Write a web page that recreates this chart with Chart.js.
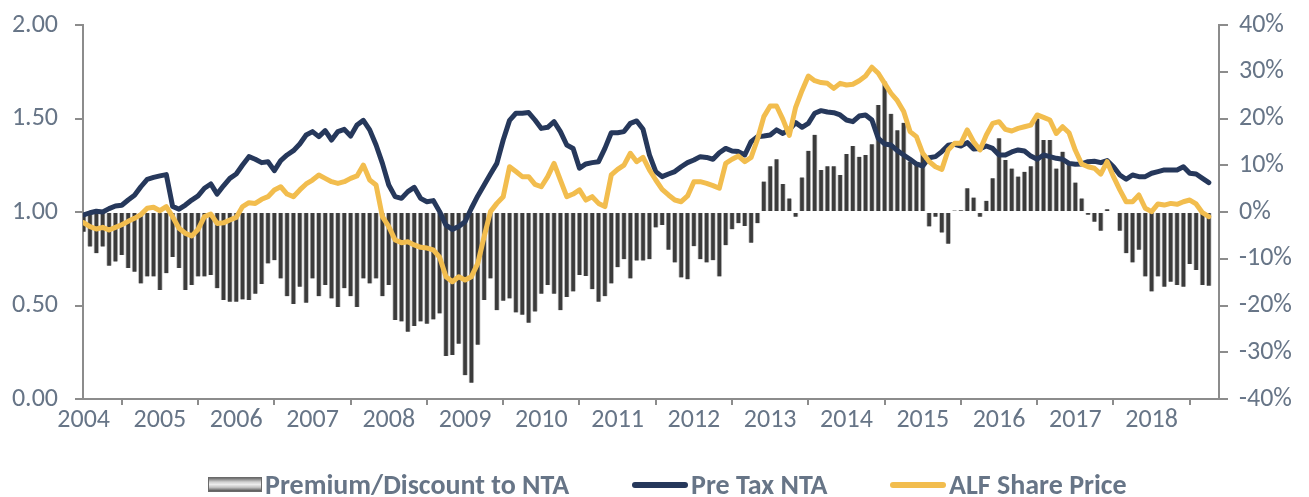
<!DOCTYPE html>
<html>
<head>
<meta charset="utf-8">
<script src="https://cdn.jsdelivr.net/npm/chart.js@4.4.1/dist/chart.umd.min.js"></script>
<style>
  html, body { margin: 0; padding: 0; background: #fff; }
  #wrap { position: relative; width: 1309px; height: 497px; }
  #leyenda { position: absolute; left: 0; top: 472px; width: 1309px; height: 25px;
             font-family: Carlito, Lato, 'Open Sans', sans-serif; font-weight: bold;
             font-size: 28px; color: #677587; }
  .item { position: absolute; top: 0; height: 25px; display: flex; align-items: center; white-space: nowrap; }
  .caja { width: 54px; height: 15px; margin-right: 3px; box-sizing: border-box; border: 1px solid #6a6a6a;
          background: linear-gradient(to bottom, #6b6b6b 0%, #cfcfcf 30%, #ececec 50%, #c4c4c4 72%, #555 100%); }
  .linea { width: 56px; height: 6px; border-radius: 3px; margin-right: 3px; }
</style>
</head>
<body>
<div id="wrap">
  <canvas id="graficoAlf" width="1309" height="497"></canvas>
  <div id="leyenda">
    <div class="item" style="left:208px"><span class="caja"></span>Premium/Discount to NTA</div>
    <div class="item" style="left:632px"><span class="linea" style="background:#26385b"></span>Pre Tax NTA</div>
    <div class="item" style="left:890px"><span class="linea" style="background:#f2bd4e"></span>ALF Share Price</div>
  </div>
</div>
<script>
// etiquetas de años (una cada 12 meses)
const anios = ['2004', '2005', '2006', '2007', '2008', '2009', '2010', '2011', '2012', '2013', '2014', '2015', '2016', '2017', '2018'];

// prima / descuento sobre NTA (%), mensual
const primaDescuento = [
    -4.2, -7.4, -8.8, -7.4, -11.5, -10.6, -9.2, -12.0, -12.8, -15.3, -13.8, -13.8,
    -16.7, -13.1, -9.6, -12.0, -16.7, -15.6, -13.8, -13.8, -13.5, -16.3, -18.8, -19.2,
    -19.2, -18.7, -18.8, -17.5, -15.4, -11.0, -10.3, -14.2, -18.0, -19.7, -16.0, -19.4,
    -14.2, -18.0, -15.6, -18.5, -20.3, -16.3, -18.0, -20.3, -14.2,
    -15.3, -14.2, -18.0, -15.6, -23.1, -23.4, -25.6, -24.4, -23.4, -23.9, -23.0, -21.7,
    -30.8, -30.6, -28.2, -34.9, -36.5, -28.4, -18.8, -14.2, -21.0, -19.0, -18.5,
    -21.5, -22.0, -23.7, -21.3, -17.5, -15.6, -17.5, -21.0, -18.2, -17.0, -13.5, -13.7,
    -16.5, -19.2, -18.0, -15.3, -11.8, -10.1, -14.2, -10.4, -10.4, -10.1,
    -3.3, -2.8, -8.1, -10.8, -14.0, -14.4, -7.3, -10.1, -10.8, -10.3, -13.8, -7.1,
    -3.7, -2.4, -3.0, -6.6, -2.4, 6.5, 9.8, 11.3, 6.0, 2.9,
    -1.0, 7.4, 13.1, 16.5, 9.0, 9.8, 9.8, 7.9, 12.4, 14.1, 11.8, 12.2,
    14.5, 22.9, 27.9, 21.0, 17.5, 19.1, 10.8, 10.3, 12.4, -3.1,
    -1.0, -4.4, -6.8, 0.3, 0.4, 5.1, 3.1, -1.0, 2.4, 7.2, 15.8, 11.1,
    9.3, 7.6, 8.6, 9.8, 20.0, 15.4, 15.4, 9.3, 12.9, 10.3, 6.3,
    2.9, -0.6, -2.1, -4.0, 0.6, 0, -4.0, -8.8, -10.8, -8.1, -13.8, -17.0,
    -13.8, -16.0, -14.9, -15.6, -16.0, -11.1, -12.4, -15.6, -15.8
];

// NTA antes de impuestos (índice)
const ntaPreImpuestos = [
    0.984, 0.996, 1.004, 1.0, 1.018, 1.032, 1.036, 1.064, 1.089, 1.135,
    1.175, 1.185, 1.193, 1.2, 1.03, 1.015, 1.037, 1.064, 1.086, 1.127,
    1.15, 1.096, 1.14, 1.18, 1.203, 1.251, 1.296, 1.282, 1.264, 1.269,
    1.221, 1.275, 1.305, 1.328, 1.364, 1.412, 1.43, 1.403, 1.435, 1.385,
    1.43, 1.442, 1.406, 1.465, 1.49, 1.439, 1.358, 1.26, 1.144, 1.082,
    1.073, 1.109, 1.132, 1.073, 1.055, 1.061, 1.002, 0.93, 0.907, 0.922,
    0.948, 1.02, 1.086, 1.144, 1.203, 1.26, 1.385, 1.49, 1.528, 1.528,
    1.532, 1.492, 1.447, 1.453, 1.483, 1.43, 1.358, 1.34, 1.234, 1.257,
    1.264, 1.269, 1.34, 1.424, 1.424, 1.43, 1.474, 1.487, 1.442,
    1.305, 1.216, 1.189, 1.203, 1.216, 1.242, 1.264, 1.278, 1.296, 1.292,
    1.282, 1.317, 1.34, 1.326, 1.323, 1.305, 1.376, 1.403, 1.406, 1.412,
    1.439, 1.42, 1.44, 1.478, 1.453, 1.474, 1.528, 1.542, 1.535, 1.531,
    1.519, 1.492, 1.483, 1.513, 1.519, 1.492, 1.394, 1.364, 1.358, 1.328,
    1.305, 1.282, 1.257, 1.246, 1.29, 1.296, 1.323, 1.357, 1.362, 1.353,
    1.371, 1.337, 1.339, 1.353, 1.34, 1.305, 1.305, 1.321, 1.332, 1.326,
    1.299, 1.282, 1.305, 1.296, 1.287, 1.282, 1.26, 1.255, 1.257, 1.269,
    1.271, 1.264, 1.275, 1.242, 1.198, 1.175, 1.198, 1.189, 1.189, 1.207,
    1.216, 1.225, 1.225, 1.225, 1.242, 1.207, 1.203, 1.18, 1.157
];

// precio de la acción ALF (índice)
const precioAccion = [
    0.943, 0.922, 0.909, 0.918, 0.904, 0.918, 0.932, 0.95, 0.966, 0.986,
    1.02, 1.025, 1.007, 1.029, 0.975, 0.913, 0.886, 0.872, 0.907, 0.975,
    0.989, 0.939, 0.942, 0.957, 0.971, 1.029, 1.05, 1.046, 1.068, 1.082,
    1.118, 1.135, 1.096, 1.082, 1.118, 1.15, 1.171, 1.198, 1.18, 1.162,
    1.153, 1.162, 1.18, 1.193, 1.251, 1.171, 1.144, 0.975, 0.922, 0.85,
    0.836, 0.841, 0.824, 0.811, 0.807, 0.797, 0.758, 0.654, 0.627, 0.654,
    0.636, 0.654, 0.725, 0.868, 1.002, 1.046, 1.082, 1.242, 1.216, 1.189,
    1.189, 1.148, 1.135, 1.189, 1.26, 1.171, 1.082, 1.096, 1.118, 1.064,
    1.082, 1.046, 1.029, 1.198, 1.228, 1.251, 1.314, 1.269, 1.292,
    1.225, 1.171, 1.121, 1.091, 1.064, 1.055, 1.086, 1.162, 1.162, 1.153,
    1.141, 1.127, 1.26, 1.282, 1.299, 1.269, 1.292, 1.389, 1.51, 1.567,
    1.567, 1.495, 1.41, 1.56, 1.649, 1.727, 1.702, 1.692, 1.688, 1.661,
    1.688, 1.679, 1.683, 1.702, 1.727, 1.774, 1.742, 1.688, 1.635, 1.595,
    1.537, 1.43, 1.403, 1.314, 1.27, 1.242, 1.228, 1.332, 1.367, 1.367,
    1.439, 1.376, 1.332, 1.412, 1.474, 1.483, 1.442, 1.433, 1.447, 1.456,
    1.465, 1.519, 1.506, 1.492, 1.42, 1.456, 1.424, 1.33, 1.257, 1.242,
    1.234, 1.203, 1.269, 1.189, 1.118, 1.055, 1.055, 1.091, 1.02, 1.002,
    1.043, 1.037, 1.046, 1.041, 1.055, 1.064, 1.043, 0.996, 0.975
];

const colorTexto = '#677587';
const colorEje = '#8c8c8c';
const fuente = "Carlito, Lato, 'Open Sans', sans-serif";

// punto por mes: x = número de mes desde ene-2004
const aPuntos = serie => serie.map((v, i) => ({ x: i, y: v }));

// ancho fijo del eje y sin relleno extra arriba/abajo
const ajustarEjeY = ancho => scale => {
    scale.width = ancho;
    scale.paddingTop = 0;
    scale.paddingBottom = 0;
};

Chart.defaults.font.family = fuente;
Chart.defaults.color = colorTexto;

const ctx = document.getElementById('graficoAlf').getContext('2d');

new Chart(ctx, {
    type: 'bar',
    data: {
        datasets: [{
            type: 'line',
            label: 'ALF Share Price',
            data: aPuntos(precioAccion),
            borderColor: '#f2bd4e',
            borderWidth: 5,
            pointRadius: 0,
            tension: 0,
            borderJoinStyle: 'round',
            borderCapStyle: 'round',
            yAxisID: 'y',
            order: 0
        }, {
            type: 'line',
            label: 'Pre Tax NTA',
            data: aPuntos(ntaPreImpuestos),
            borderColor: '#26385b',
            borderWidth: 5,
            pointRadius: 0,
            tension: 0,
            borderJoinStyle: 'round',
            borderCapStyle: 'round',
            yAxisID: 'y',
            order: 1
        }, {
            label: 'Premium/Discount to NTA',
            data: aPuntos(primaDescuento),
            backgroundColor: '#3b3b3b',
            borderColor: '#c2c2c2',
            borderWidth: { left: 1, right: 1, top: 0, bottom: 0 },
            borderSkipped: false,
            barThickness: 5,
            yAxisID: 'yPct',
            order: 2
        }]
    },
    options: {
        responsive: false,
        animation: false,
        layout: { padding: { top: 25, left: 0, right: 0, bottom: 0 } },
        plugins: {
            legend: { display: false },
            tooltip: { enabled: false }
        },
        scales: {
            x: {
                type: 'linear',
                offset: false,
                min: -0.1,
                max: 178.6,
                afterBuildTicks: scale => {
                    scale.ticks = anios.map((a, k) => ({ value: k * 12 }));
                },
                afterFit: scale => {
                    scale.height = 98;
                    scale.paddingLeft = 0;
                    scale.paddingRight = 0;
                },
                ticks: {
                    autoSkip: false,
                    maxRotation: 0,
                    padding: 0,
                    font: { size: 26 },
                    color: colorTexto,
                    callback: value => anios[Math.round(value / 12)]
                },
                grid: { display: true, drawOnChartArea: false, drawTicks: true, tickLength: 6, color: colorEje, lineWidth: 2 },
                border: { display: true, color: colorEje, width: 2 }
            },
            y: {
                position: 'left',
                min: 0,
                max: 2,
                afterFit: ajustarEjeY(83),
                ticks: {
                    stepSize: 0.5,
                    padding: 17,
                    font: { size: 26 },
                    color: colorTexto,
                    callback: value => value.toFixed(2)
                },
                grid: { display: true, drawOnChartArea: false, drawTicks: true, tickLength: 8, color: colorEje, lineWidth: 2 },
                border: { display: true, color: colorEje, width: 2 }
            },
            yPct: {
                position: 'right',
                min: -40,
                max: 40,
                afterFit: ajustarEjeY(90),
                ticks: {
                    stepSize: 10,
                    padding: 11,
                    font: { size: 26 },
                    color: colorTexto,
                    callback: value => value + '%'
                },
                grid: { display: true, drawOnChartArea: false, drawTicks: true, tickLength: 9, color: colorEje, lineWidth: 2 },
                border: { display: true, color: colorEje, width: 2 }
            }
        }
    }
});
</script>
</body>
</html>
